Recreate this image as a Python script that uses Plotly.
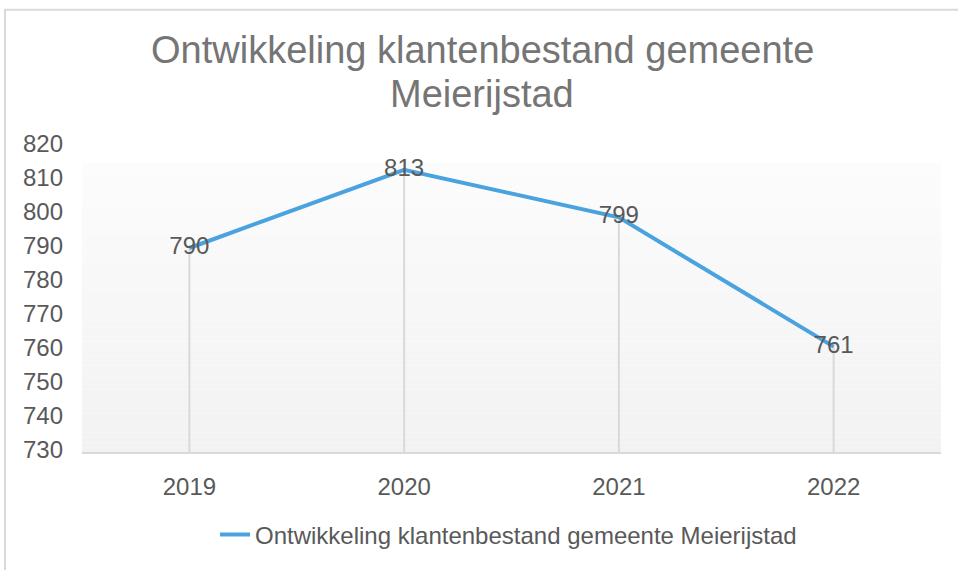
import plotly.graph_objects as go

# ---- data ----
years = ["2019", "2020", "2021", "2022"]
klanten = [790, 813, 799, 761]
series_name = "Ontwikkeling klantenbestand gemeente Meierijstad"
title_lines = ["Ontwikkeling klantenbestand gemeente", "Meierijstad"]
y_ticks = [730, 740, 750, 760, 770, 780, 790, 800, 810, 820]

# ---- style ----
W, H = 958, 570
L, R, T, B = 82, 17, 146, 114
plot_w = W - L - R
plot_h = H - T - B
Y_MIN, Y_MAX = 730, 820
LINE_COLOR = "#4AA3DF"
GRID_COLOR = "#D9D9D9"
TEXT_COLOR = "#595959"
FONT = "Liberation Sans, Arial, sans-serif"


def px_to_paper_x(px):
    return (px - L) / plot_w


def px_to_paper_y(py):
    return (H - B - py) / plot_h


fig = go.Figure()

# drop lines from each point down to the axis
drop_x, drop_y = [], []
for c, v in zip(years, klanten):
    drop_x += [c, c, None]
    drop_y += [Y_MIN, v, None]
fig.add_trace(go.Scatter(
    x=drop_x, y=drop_y, mode="lines",
    line=dict(color=GRID_COLOR, width=2),
    hoverinfo="skip", showlegend=False,
))

fig.add_trace(go.Scatter(
    x=years, y=klanten, mode="lines+text",
    name=series_name,
    line=dict(color=LINE_COLOR, width=4),
    text=[str(v) for v in klanten],
    textposition="middle center",
    textfont=dict(size=24, color=TEXT_COLOR, family=FONT),
))

shapes = []
# gradient plot-area background
g_top = px_to_paper_y(163)
n = 60
c_top = (252, 252, 252)
c_bot = (242, 242, 242)
for i in range(n):
    t = i / (n - 1)
    col = tuple(round(c_top[k] + (c_bot[k] - c_top[k]) * t) for k in range(3))
    y1 = g_top - g_top * i / n
    y0 = g_top - g_top * (i + 1) / n
    shapes.append(dict(
        type="rect", xref="paper", yref="paper",
        x0=0, x1=1, y0=y0, y1=y1,
        fillcolor="rgb(%d,%d,%d)" % col, line=dict(width=0), layer="below",
    ))
# chart border
shapes.append(dict(
    type="rect", xref="paper", yref="paper",
    x0=px_to_paper_x(5), x1=px_to_paper_x(W + 20),
    y0=px_to_paper_y(H + 20), y1=px_to_paper_y(8),
    line=dict(color="#D9D9D9", width=2), fillcolor="rgba(0,0,0,0)", layer="below",
))

annotations = []
for line, py in zip(title_lines, [49, 93]):
    annotations.append(dict(
        text=line, xref="paper", yref="paper",
        x=px_to_paper_x(482), y=px_to_paper_y(py),
        xanchor="center", yanchor="middle", showarrow=False,
        font=dict(size=38, color="#757575", family=FONT),
    ))

fig.update_layout(
    width=W, height=H,
    margin=dict(l=L, r=R, t=T, b=B),
    paper_bgcolor="white", plot_bgcolor="white",
    font=dict(family=FONT, color=TEXT_COLOR, size=24),
    shapes=shapes, annotations=annotations,
    showlegend=True,
    legend=dict(
        orientation="h", x=px_to_paper_x(215), xanchor="left",
        y=px_to_paper_y(540), yanchor="middle",
        font=dict(size=24, color=TEXT_COLOR, family=FONT),
        bgcolor="rgba(0,0,0,0)",
    ),
    xaxis=dict(
        type="category", categoryorder="array", categoryarray=years,
        range=[-0.5, len(years) - 0.5],
        showgrid=False, zeroline=False,
        showline=True, linecolor=GRID_COLOR, linewidth=2,
        ticks="", ticklabelstandoff=12,
        tickfont=dict(size=24, color=TEXT_COLOR, family=FONT),
        fixedrange=True,
    ),
    yaxis=dict(
        range=[Y_MIN, Y_MAX], tickvals=y_ticks,
        showgrid=False, zeroline=False, showline=False,
        ticks="", ticklabelstandoff=18, ticklabelshift=-2,
        tickfont=dict(size=24, color=TEXT_COLOR, family=FONT),
        fixedrange=True,
    ),
)

fig.write_html("out.html")
